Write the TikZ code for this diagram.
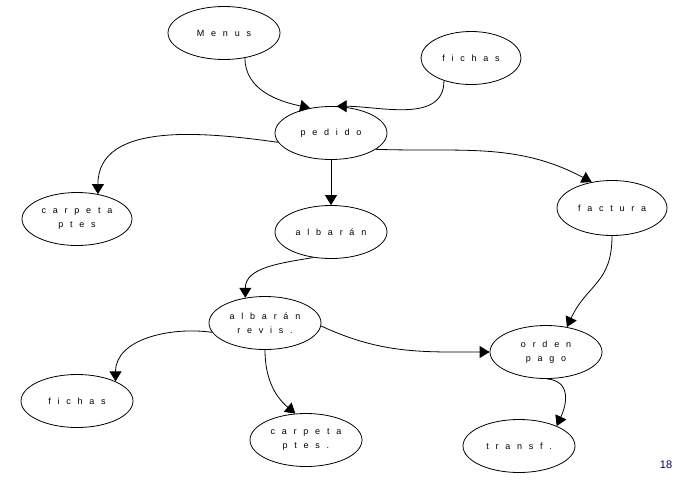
\documentclass[tikz,border=0pt]{standalone}
\usepackage{fontspec}
\setmainfont{Liberation Sans}
\newfontfamily\spaced[LetterSpace=75]{Liberation Sans}
\usetikzlibrary{shapes.geometric,arrows.meta}
\begin{document}
\begin{tikzpicture}[x=1pt,y=-1pt,
	proc/.style={draw, ellipse, thick, minimum width=112pt, minimum height=53pt, inner sep=0pt, align=center, font=\spaced\fontsize{9}{14}\selectfont},
	flow/.style={draw, thick, -{Triangle[width=12pt,length=10pt]}}]
	\useasboundingbox (0,0) rectangle (696,488);
	\node[proc] (menus) at (224,33) {Menus};
	\node[proc, minimum width=100pt] (fichasA) at (471,58) {fichas};
	\node[proc] (pedido) at (331,133) {pedido};
	\node[proc, minimum width=110pt] (carpetaA) at (77,219) {carpeta\\ptes};
	\node[proc] (albaran) at (331,232) {albarán};
	\node[proc, minimum width=110pt, minimum height=55pt] (factura) at (612,208) {factura};
	\node[proc] (revis) at (265,323) {albarán\\revis.};
	\node[proc] (orden) at (546,352) {orden\\pago};
	\node[proc] (fichasB) at (77,401) {fichas};
	\node[proc] (carpetaB) at (306,440) {carpeta\\ptes.};
	\node[proc] (transf) at (519,446) {transf.};
	\node[text=blue!45!black, font=\fontsize{11}{13}\selectfont] (pagenum) at (666,465) {18};
	\draw[flow] (menus.-50) to[out=-90, in=168] (pedido.130);
	\draw[flow] (fichasA.-140) to[out=-90, in=0] (pedido.78);
	\draw[flow] (pedido.190) to[out=172, in=90] (carpetaA.50);
	\draw[flow] (pedido.south) -- (albaran.north);
	\draw[flow] (pedido.-20) to[out=-2, in=152] (factura.128);
	\draw[flow] (albaran.-125) to[out=190, in=90] (revis.128);
	\draw[flow] (factura.-90) to[out=-90, in=65, looseness=1.2] (orden.50);
	\draw[flow] (revis.-3) to[out=-25, in=180] (orden.180);
	\draw[flow] (revis.190) to[out=172, in=90] (fichasB.27);
	\draw[flow] (revis.-90) to[out=-90, in=140] (carpetaB.112);
	\draw[flow] (orden.-88) to[out=-5, in=65, looseness=1.3] (transf.28);
\end{tikzpicture}
\end{document}
